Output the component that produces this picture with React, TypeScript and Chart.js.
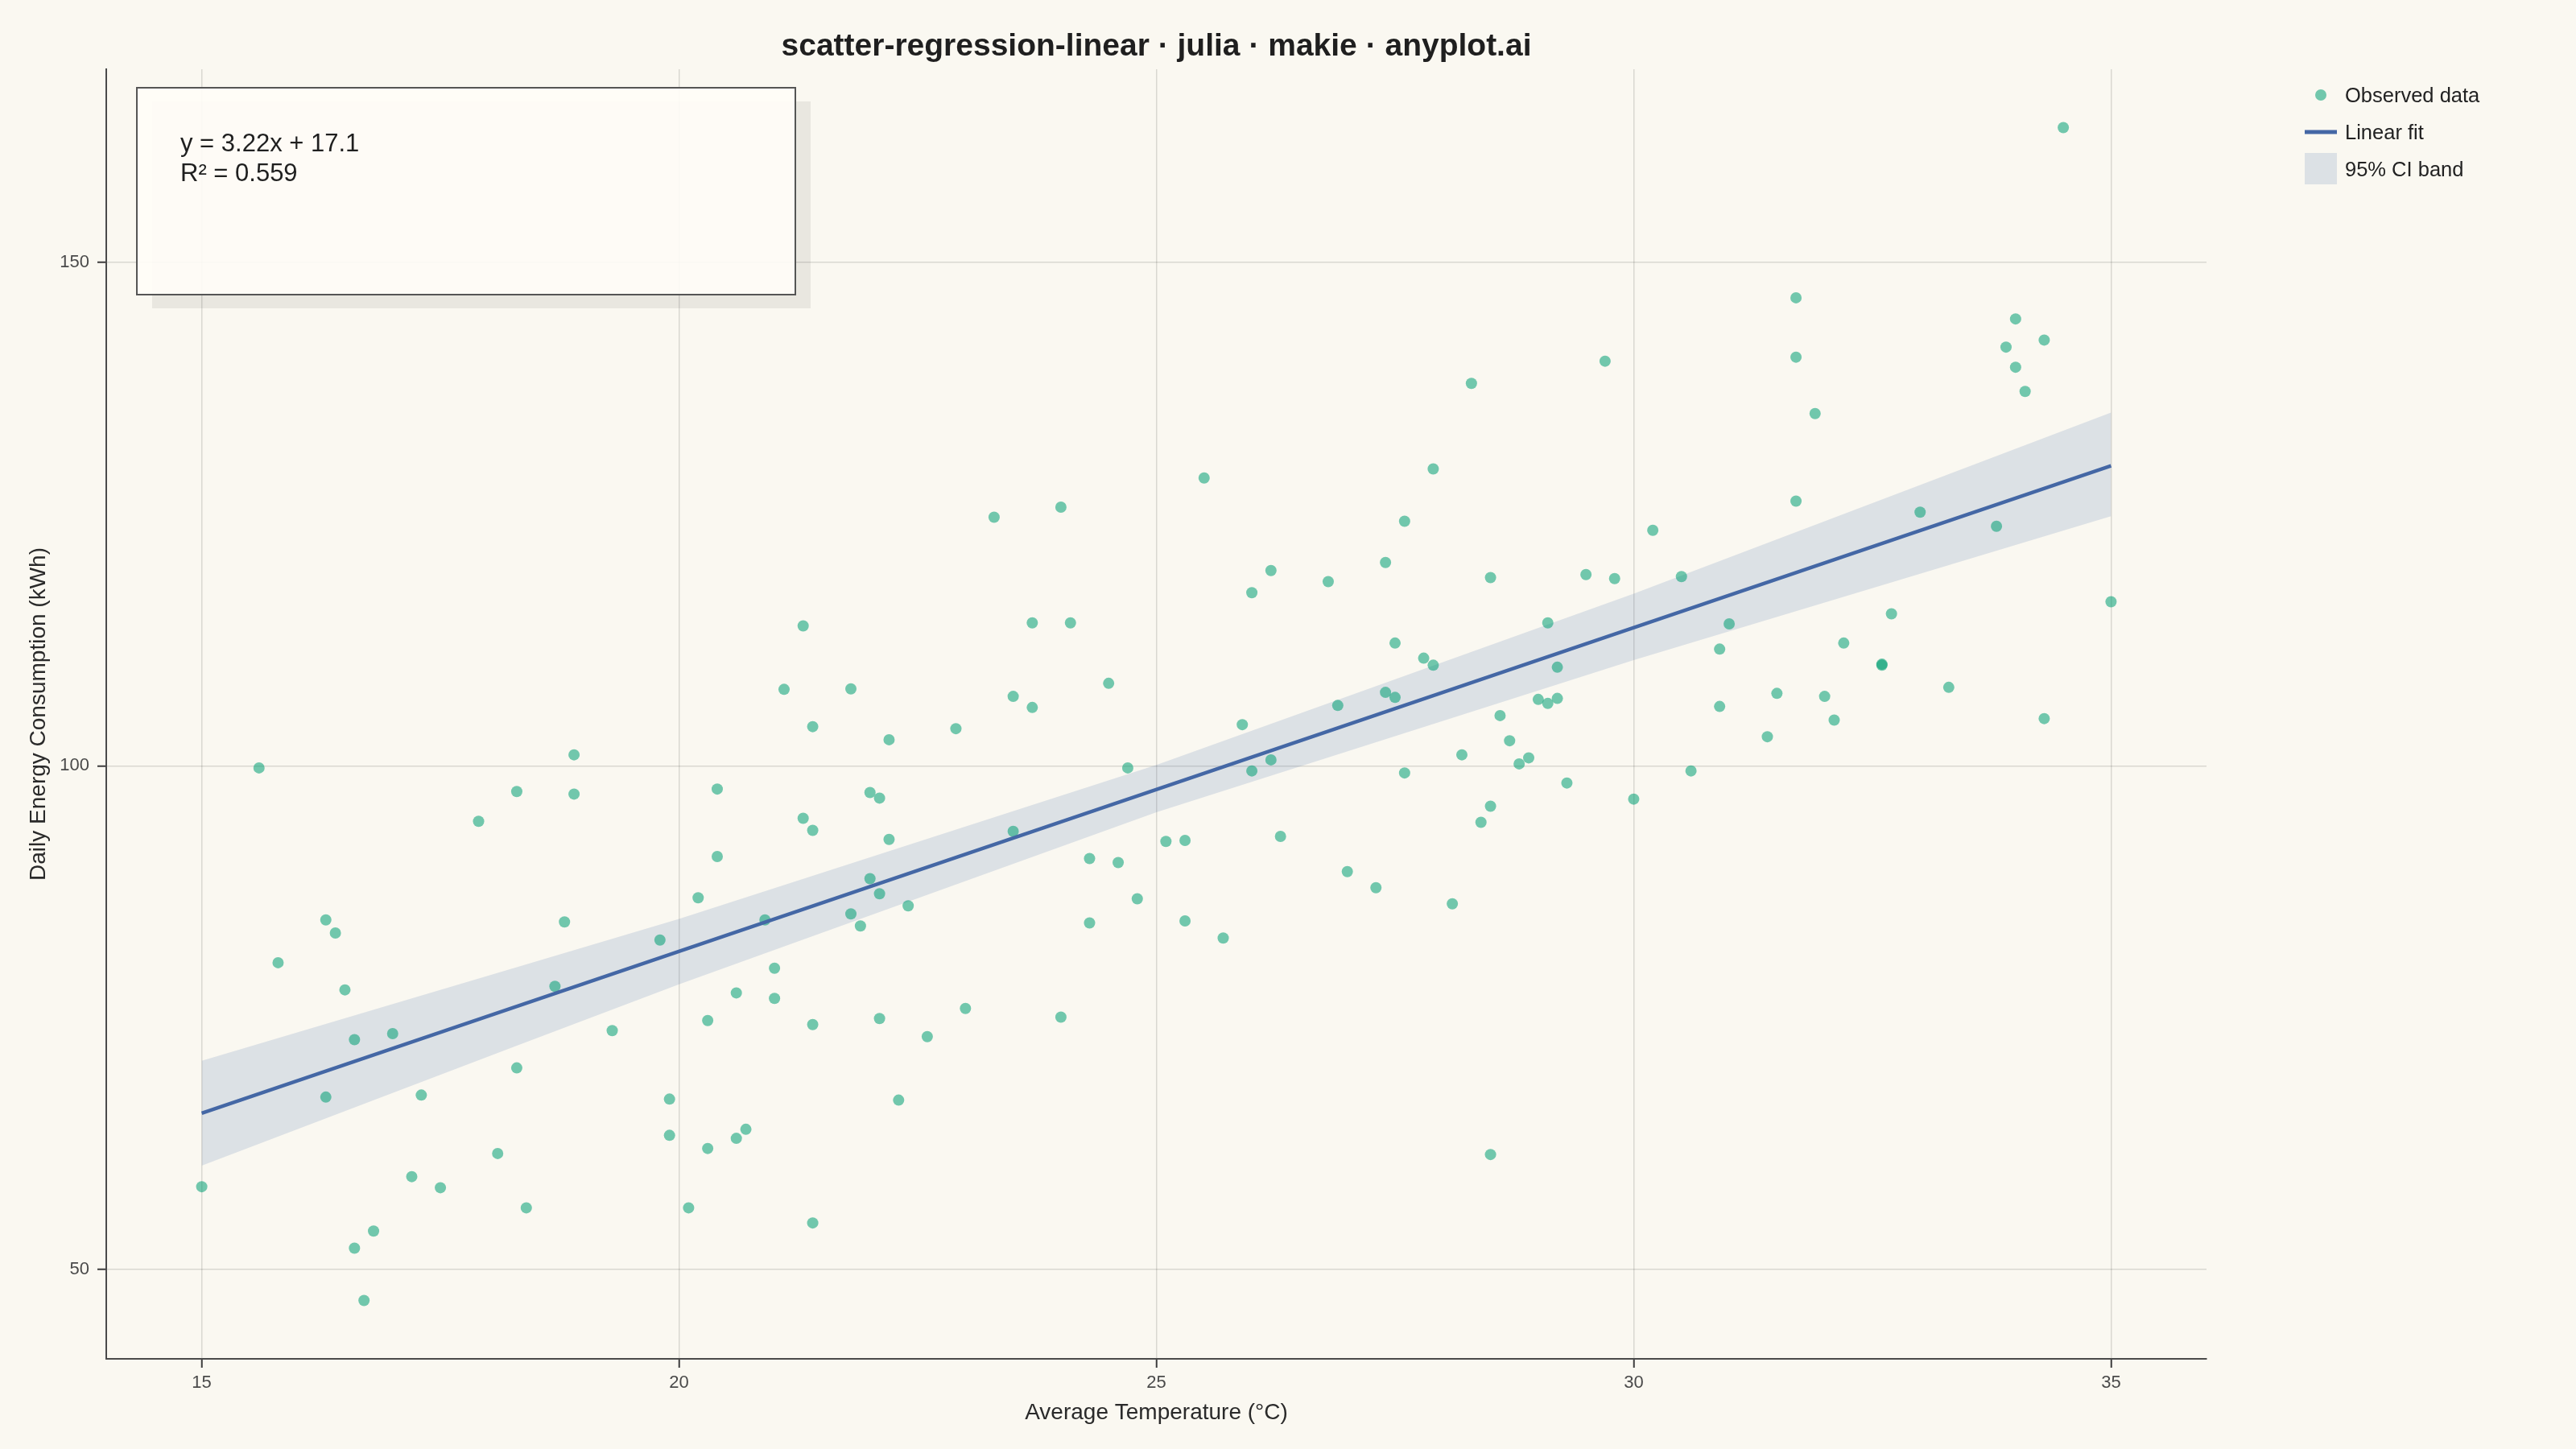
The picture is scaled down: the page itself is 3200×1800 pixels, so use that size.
import React, { useEffect, useRef } from 'react';
import { Chart, registerables } from 'chart.js';

Chart.register(...registerables);

// observed data: average temperature (°C) and daily energy use (kWh)
const temperature = [
  15.6, 18.9, 18.3, 18.9, 17.9, 16.3, 16.4, 15.8, 18.8, 19.8, 16.5, 18.7, 16.6, 17.0, 19.3, 18.3, 16.3, 17.3, 19.9, 19.9,
  18.1, 15.0, 17.2, 17.5, 18.4, 16.8, 16.6, 16.7,
  23.3, 24.0, 21.3, 23.7, 24.1, 21.1, 21.8, 23.5, 23.7, 24.5, 21.4, 22.2, 22.9, 24.7, 20.4, 22.0, 22.1, 21.3, 21.4, 22.2,
  23.5, 20.4, 24.3, 24.6, 20.2, 22.0, 22.1, 22.4, 21.8, 21.9, 20.9, 24.8, 24.3, 21.0, 20.6, 21.0, 20.3, 21.4, 22.1, 22.6,
  23.0, 24.0, 22.3, 20.3, 20.6, 20.7, 20.1, 21.4,
  29.7, 28.3, 25.5, 27.9, 27.6, 27.4, 26.2, 26.0, 26.8, 28.5, 29.5, 29.8, 29.1, 27.5, 27.8, 27.9, 29.2, 27.4, 27.5, 26.9,
  29.0, 29.1, 29.2, 28.6, 25.9, 28.7, 26.2, 26.0, 28.2, 28.9, 28.8, 27.6, 29.3, 30.0, 28.5, 28.4, 25.1, 25.3, 26.3, 27.0,
  27.3, 28.1, 25.3, 25.7, 28.5,
  34.5, 31.7, 31.7, 34.0, 33.9, 34.3, 34.0, 34.1, 31.9, 31.7, 30.2, 33.0, 33.8, 30.5, 35.0, 32.7, 31.0, 30.9, 32.2, 32.6,
  32.6, 31.5, 32.0, 30.9, 32.1, 33.3, 34.3, 31.4, 30.6,
];
const energy = [
  99.8, 101.1, 97.45, 97.2, 94.5, 84.7, 83.4, 80.45, 84.5, 82.7, 77.75, 78.1, 72.8, 73.4, 73.7, 70.0, 67.1, 67.3, 66.9, 63.3,
  61.5, 58.2, 59.2, 58.1, 56.1, 53.8, 52.1, 46.9,
  124.7, 125.7, 113.9, 114.2, 114.2, 107.6, 107.65, 106.9, 105.8, 108.2, 103.9, 102.6, 103.7, 99.8, 97.7, 97.35, 96.8, 94.8, 93.6, 92.7,
  93.5, 91.0, 90.8, 90.4, 86.9, 88.8, 87.3, 86.1, 85.3, 84.1, 84.7, 86.8, 84.4, 79.9, 77.45, 76.9, 74.7, 74.3, 74.9, 73.1,
  75.9, 75.05, 66.8, 62.0, 63.0, 63.9, 56.1, 54.6,
  140.2, 138.0, 128.6, 129.5, 124.3, 120.2, 119.4, 117.2, 118.3, 118.7, 119.0, 118.6, 114.2, 112.2, 110.7, 110.0, 109.8, 107.3, 106.8, 106.0,
  106.6, 106.2, 106.7, 105.0, 104.1, 102.5, 100.6, 99.5, 101.1, 100.8, 100.2, 99.3, 98.3, 96.7, 96.0, 94.4, 92.5, 92.6, 93.0, 89.5,
  87.9, 86.3, 84.6, 82.9, 61.4,
  163.4, 146.5, 140.6, 144.4, 141.6, 142.3, 139.6, 137.2, 135.0, 126.3, 123.4, 125.2, 123.8, 118.8, 116.3, 115.1, 114.1, 111.6, 112.2, 110.0,
  110.1, 107.2, 106.9, 105.9, 104.55, 107.8, 104.7, 102.9, 99.5,
];

// fitted line and 95% confidence band
const fitX = [15, 35];
const fitY = [65.5, 129.8];
const bandX = [15, 18.3, 20, 25, 30, 35];
const bandUpper = [70.7, 80.0, 84.8, 100.1, 117.1, 135.1];
const bandLower = [60.3, 72.2, 78.3, 95.4, 110.5, 124.8];

const xTicks = [15, 20, 25, 30, 35];
const yTicks = [50, 100, 150];

const titleText = 'scatter-regression-linear · julia · makie · anyplot.ai';
const equationLines = ['y = 3.22x + 17.1', 'R² = 0.559'];
const legendLabels = ['Observed data', 'Linear fit', '95% CI band'];

const BG = '#FAF8F1';
const FONT = '"Liberation Sans", Arial, Helvetica, sans-serif';
const POINT_COLOR = 'rgba(0, 158, 115, 0.55)';
const LINE_COLOR = '#4467a5';
const BAND_COLOR = 'rgba(68, 103, 165, 0.16)';

const backgroundPlugin = {
  id: 'bg',
  beforeDraw(chart: any) {
    const { ctx, width, height } = chart;
    ctx.save();
    ctx.fillStyle = BG;
    ctx.fillRect(0, 0, width, height);
    ctx.restore();
  },
};

const overlayPlugin = {
  id: 'overlay',
  afterDraw(chart: any) {
    const { ctx, chartArea } = chart;
    const { left, top, right } = chartArea;
    ctx.save();

    // title
    ctx.font = `bold 39px ${FONT}`;
    ctx.fillStyle = '#1f1f1f';
    ctx.textAlign = 'center';
    ctx.textBaseline = 'alphabetic';
    ctx.fillText(titleText, (left + right) / 2, 69);

    // equation box with shadow
    const bx = left + 38;
    const by = top + 23;
    const bw = 818;
    const bh = 257;
    ctx.fillStyle = 'rgba(0, 0, 0, 0.065)';
    ctx.fillRect(bx + 19, by + 17, bw, bh);
    ctx.fillStyle = 'rgba(255, 253, 247, 0.92)';
    ctx.fillRect(bx, by, bw, bh);
    ctx.strokeStyle = '#555555';
    ctx.lineWidth = 2;
    ctx.strokeRect(bx, by, bw, bh);

    ctx.font = `31px ${FONT}`;
    ctx.fillStyle = '#1f1f1f';
    ctx.textAlign = 'left';
    equationLines.forEach((t, i) => ctx.fillText(t, bx + 54, by + 79 + i * 37));

    // legend
    const lx = right + 122;
    ctx.font = `25.5px ${FONT}`;
    ctx.fillStyle = POINT_COLOR;
    ctx.beginPath();
    ctx.arc(lx + 20, top + 32, 7, 0, Math.PI * 2);
    ctx.fill();

    ctx.strokeStyle = LINE_COLOR;
    ctx.lineWidth = 5;
    ctx.beginPath();
    ctx.moveTo(lx, top + 78);
    ctx.lineTo(lx + 40, top + 78);
    ctx.stroke();

    ctx.fillStyle = BAND_COLOR;
    ctx.fillRect(lx, top + 104, 40, 39);

    ctx.fillStyle = '#222222';
    const baselines = [top + 41, top + 87, top + 133];
    legendLabels.forEach((t, i) => ctx.fillText(t, lx + 50, baselines[i]));

    ctx.restore();
  },
};

export default function App() {
  const canvasRef = useRef<HTMLCanvasElement>(null);

  useEffect(() => {
    document.body.style.margin = '0';
    document.body.style.background = BG;
    const ctx = canvasRef.current!.getContext('2d')!;

    const chart = new Chart(ctx, {
      type: 'scatter',
      data: {
        datasets: [
          {
            label: legendLabels[0],
            data: temperature.map((x, i) => ({ x, y: energy[i] })),
            pointRadius: 7,
            pointBackgroundColor: POINT_COLOR,
            pointBorderWidth: 0,
            order: 2,
          },
          {
            type: 'line',
            label: legendLabels[1],
            data: fitX.map((x, i) => ({ x, y: fitY[i] })),
            borderColor: LINE_COLOR,
            borderWidth: 4.5,
            pointRadius: 0,
            fill: false,
            order: 1,
          },
          {
            type: 'line',
            label: 'band lower',
            data: bandX.map((x, i) => ({ x, y: bandLower[i] })),
            borderColor: 'transparent',
            borderWidth: 0,
            pointRadius: 0,
            fill: false,
            order: 4,
          },
          {
            type: 'line',
            label: legendLabels[2],
            data: bandX.map((x, i) => ({ x, y: bandUpper[i] })),
            borderColor: 'transparent',
            borderWidth: 0,
            pointRadius: 0,
            backgroundColor: BAND_COLOR,
            fill: '-1',
            order: 3,
          },
        ] as any,
      },
      options: {
        animation: false,
        responsive: false,
        devicePixelRatio: 1,
        events: [],
        layout: { padding: { top: 86, right: 459, left: 0, bottom: 0 } },
        plugins: {
          legend: { display: false },
          title: { display: false },
          tooltip: { enabled: false },
        },
        scales: {
          x: {
            type: 'linear',
            min: 14,
            max: 36,
            afterBuildTicks: (s: any) => {
              s.ticks = xTicks.map((value) => ({ value }));
            },
            afterFit: (s: any) => {
              s.height = 112;
            },
            grid: {
              color: 'rgba(0, 0, 0, 0.13)',
              lineWidth: 1.5,
              tickColor: '#3c3c3c',
              tickLength: 11,
              tickWidth: 2,
            },
            border: { color: '#4a4a4a', width: 2 },
            ticks: {
              autoSkip: false,
              maxRotation: 0,
              padding: 6,
              color: '#4a4a4a',
              font: { family: FONT, size: 22 },
            },
            title: {
              display: true,
              text: 'Average Temperature (°C)',
              color: '#2a2a2a',
              font: { family: FONT, size: 28 },
              padding: { top: 0, bottom: 28 },
            },
          },
          y: {
            type: 'linear',
            min: 41.1,
            max: 169.2,
            afterBuildTicks: (s: any) => {
              s.ticks = yTicks.map((value) => ({ value }));
            },
            afterFit: (s: any) => {
              s.width = 132;
            },
            grid: {
              color: 'rgba(0, 0, 0, 0.13)',
              lineWidth: 1.5,
              tickColor: '#3c3c3c',
              tickLength: 11,
              tickWidth: 2,
            },
            border: { color: '#4a4a4a', width: 2 },
            ticks: {
              autoSkip: false,
              padding: 10,
              color: '#4a4a4a',
              font: { family: FONT, size: 22 },
            },
            title: {
              display: true,
              text: 'Daily Energy Consumption (kWh)',
              color: '#2a2a2a',
              font: { family: FONT, size: 28 },
              padding: { top: 31, bottom: 0 },
            },
          },
        },
      },
      plugins: [backgroundPlugin, overlayPlugin],
    });

    return () => {
      chart.destroy();
    };
  }, []);

  return (
    <div style={{ width: 3200, height: 1800, background: BG }}>
      <canvas ref={canvasRef} width={3200} height={1800} style={{ display: 'block' }}></canvas>
    </div>
  );
}
